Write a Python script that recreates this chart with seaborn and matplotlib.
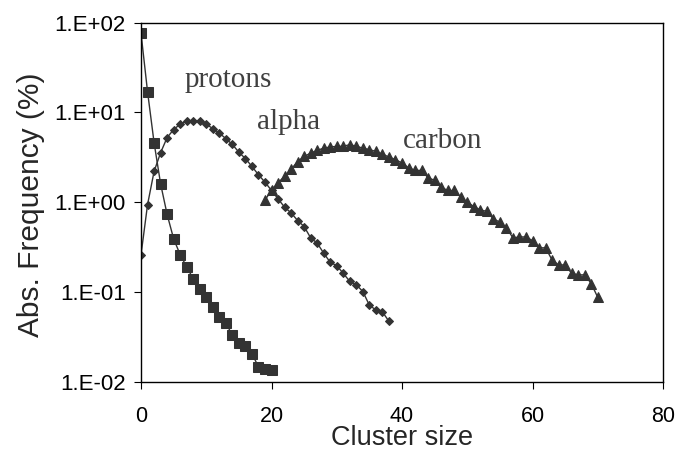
import numpy as np
import pandas as pd
import seaborn as sns
import matplotlib
matplotlib.use('Agg')
import matplotlib.pyplot as plt
from matplotlib.ticker import FuncFormatter, NullLocator

# cluster sizes and abs. frequencies (%)
protons_x = np.arange(0, 21)
protons_y = [76, 17, 4.6, 1.6, 0.73, 0.39, 0.26, 0.19, 0.14, 0.108, 0.088,
             0.068, 0.053, 0.045, 0.033, 0.027, 0.025, 0.0206, 0.0146, 0.014, 0.0135]

alpha_x = np.arange(0, 39)
alpha_y = [0.26, 0.94, 2.2, 3.56, 5.25, 6.45, 7.4, 8.0, 8.1, 8.0,
           7.4, 6.6, 5.9, 5.1, 4.4, 3.6, 3.06, 2.5, 2.02, 1.67,
           1.35, 1.09, 0.88, 0.76, 0.625, 0.535, 0.40, 0.35, 0.27, 0.214,
           0.196, 0.161, 0.131, 0.12, 0.101, 0.071, 0.063, 0.060, 0.047]

carbon_x = np.arange(19, 71)
carbon_y = [1.06, 1.35, 1.65, 1.94, 2.33, 2.83, 3.24, 3.52, 3.78, 4.0,
            4.12, 4.19, 4.19, 4.38, 4.19, 4.0, 3.85, 3.68, 3.44, 3.18,
            2.98, 2.73, 2.42, 2.26, 2.26, 1.87, 1.75, 1.47, 1.35, 1.35,
            1.14, 1.0, 0.895, 0.82, 0.79, 0.65, 0.60, 0.52, 0.40, 0.41,
            0.41, 0.373, 0.31, 0.31, 0.227, 0.20, 0.20, 0.161, 0.155, 0.155,
            0.124, 0.087]

sns.set_style("ticks")
plt.rcParams['font.family'] = ['Liberation Sans', 'DejaVu Sans']

fig = plt.figure(figsize=(6.8, 4.5), dpi=100)
ax = fig.add_axes([0.2074, 0.1518, 0.7676, 0.7978])

dark = '#333333'
series = [(protons_x, protons_y, 's', 7),
          (alpha_x, alpha_y, 'D', 4.5),
          (carbon_x, carbon_y, '^', 7)]
for xs, ys, mk, ms in series:
    sns.lineplot(x=xs, y=ys, ax=ax, color=dark, linewidth=1, marker=mk,
                 markersize=ms, markeredgecolor=dark, markerfacecolor=dark,
                 errorbar=None)

ax.set_yscale('log')
ax.set_xlim(0, 80)
ax.set_ylim(1e-2, 1e2)
ax.set_xticks([0, 20, 40, 60, 80])
ax.set_yticks([1e-2, 1e-1, 1e0, 1e1, 1e2])
ax.yaxis.set_minor_locator(NullLocator())
ax.yaxis.set_major_formatter(FuncFormatter(lambda v, p: f"1.E{int(round(np.log10(v))):+03d}"))

ax.tick_params(direction='out', length=5, width=0.8, colors='black')
ax.tick_params(axis='x', pad=12.5, labelsize=15.5)
ax.tick_params(axis='y', pad=6, labelsize=16)
for s in ax.spines.values():
    s.set_visible(True)
    s.set_color('black')
    s.set_linewidth(1)

ax.set_xlabel('Cluster size', fontsize=19.5, va='baseline')
ax.set_ylabel('Abs. Frequency (%)', fontsize=21.5)
ax.xaxis.set_label_coords(0.5, -0.176)
ax.yaxis.set_label_coords(-0.184, 0.492)

serif = ['Liberation Serif', 'DejaVu Serif']
ax.text(6.74, 19.1, 'protons', family=serif, fontsize=21, color='#404040', va='baseline')
ax.text(17.8, 6.6, 'alpha', family=serif, fontsize=21, color='#404040', va='baseline')
ax.text(40.1, 4.06, 'carbon', family=serif, fontsize=21, color='#404040', va='baseline')

fig.savefig('out.png', dpi=100)
